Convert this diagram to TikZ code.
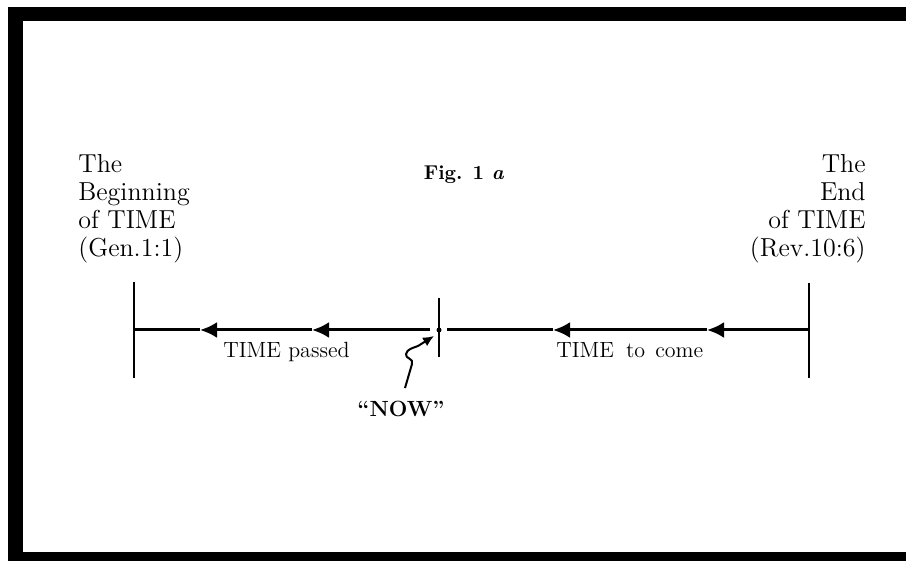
\documentclass[tikz,border=0pt]{standalone}
\usetikzlibrary{arrows.meta}
\begin{document}
\begin{tikzpicture}[x=0.5pt,y=-0.5pt,
  tick/.style={line width=1.1pt},
  timeline/.style={line width=1.5pt},
  tri/.tip={Latex[length=8.5pt,width=8pt]},
  smalltri/.tip={Latex[length=5.5pt,width=5pt]},
  sidelabel/.style={inner sep=0pt,font=\fontsize{13}{14}\selectfont},
  timelabel/.style={inner sep=0pt,font=\fontsize{11}{13}\selectfont},
  boldlabel/.style={inner sep=0pt,font=\fontsize{11}{13}\selectfont\bfseries}]
\useasboundingbox (0,0) rectangle (906,561);
% frame
\fill[black] (8,7) rectangle (906,21);
\fill[black] (8,7) rectangle (23,561);
\fill[black] (8,552) rectangle (906,561);
% ticks
\coordinate (Btop) at (134,282); \coordinate (Bbot) at (134,378);
\coordinate (Etop) at (809,283); \coordinate (Ebot) at (809,378);
\coordinate (Ntop) at (439,298); \coordinate (Nbot) at (439,357);
\draw[tick] (Btop) -- (Bbot);
\draw[tick] (Etop) -- (Ebot);
\draw[line width=0.8pt] (Ntop) -- (Nbot);
\coordinate (Nc) at (439,330);
\fill (Nc) circle (2.5);
% time line
\coordinate (E) at (809,330); \coordinate (Nr) at (447,330);
\coordinate (Nl) at (430,330); \coordinate (B) at (134,330);
\coordinate (a1) at (707,330); \coordinate (a2) at (553,330);
\coordinate (a3) at (312,330); \coordinate (a4) at (200,330);
\draw[timeline,-{tri}] (E) -- (a1);
\draw[timeline,-{tri}] (a1) -- (a2);
\draw[timeline] (a2) -- (Nr);
\draw[timeline,-{tri}] (Nl) -- (a3);
\draw[timeline,-{tri}] (a3) -- (a4);
\draw[timeline] (a4) -- (B);
% labels
\node[sidelabel,align=left,anchor=north west] (beg) at (78,154)
  {The\\Beginning\\of TIME\\(Gen.1:1)};
\node[sidelabel,align=right,anchor=north east] (end) at (866,154)
  {The\\End\\of TIME\\(Rev.10:6)};
\node[inner sep=0pt,font=\fontsize{10}{12}\selectfont\bfseries,anchor=base] (fig) at (464,180) {Fig. 1 \textit{a}};
\node[timelabel,anchor=base west] (past) at (223,358) {TIME passed};
\node[timelabel,anchor=base west] (future) at (556,358) {TIME\hspace{6pt}to\hspace{5pt}come};
\node[boldlabel,anchor=base] (now) at (401,417) {``NOW''};
% squiggle pointer
\coordinate (sq0) at (405,388);
\coordinate (sqtip) at (434,336);
\draw[line width=1pt,-{smalltri}] (sq0) -- (412,364)
  .. controls (414,358) and (405,359) .. (406,354)
  .. controls (407,349) and (413,348) .. (418,346) -- (sqtip);
\end{tikzpicture}
\end{document}
